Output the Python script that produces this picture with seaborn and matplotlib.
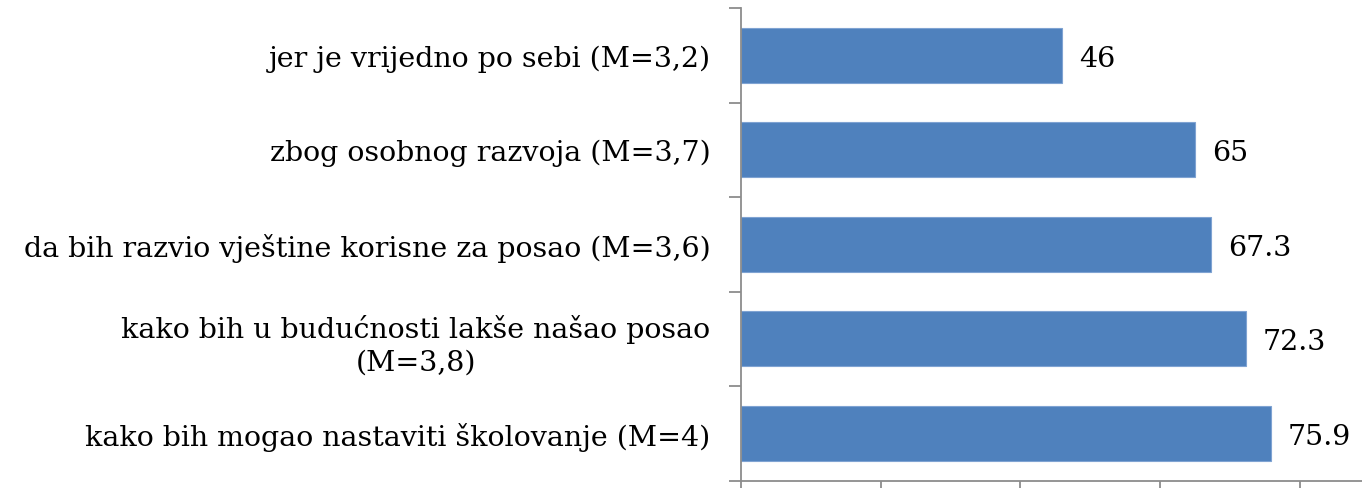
import numpy as np
import pandas as pd
import matplotlib
matplotlib.use('Agg')
import matplotlib.pyplot as plt
from matplotlib.ticker import FixedLocator
import seaborn as sns

# Data (top to bottom)
categories = [
    "jer je vrijedno po sebi (M=3,2)",
    "zbog osobnog razvoja (M=3,7)",
    "da bih razvio vještine korisne za posao (M=3,6)",
    "kako bih u budućnosti lakše našao posao\n(M=3,8)",
    "kako bih mogao nastaviti školovanje (M=4)",
]
values = [46, 65, 67.3, 72.3, 75.9]
value_labels = ["46", "65", "67.3", "72.3", "75.9"]
x_ticks = [0, 20, 40, 60, 80]

sns.set_style("white")
plt.rcParams['font.family'] = ['DejaVu Serif']
plt.rcParams['text.color'] = 'black'
plt.rcParams['ytick.labelcolor'] = 'black'

df = pd.DataFrame({"reason": categories, "value": values})

fig = plt.figure(figsize=(13.62, 4.89), dpi=100)
ax = fig.add_axes([741 / 1362, 7.5 / 489, 1 - 741 / 1362, (481.5 - 9) / 489])

sns.barplot(data=df, x="value", y="reason", orient="h", color="#4F81BD",
            saturation=1, width=0.58, edgecolor="#7FA3D2", linewidth=0.8, ax=ax)

ax.set_xlim(0, (1362 - 741) / 6.985)
ax.set_ylim(len(categories) - 0.5, -0.5)
ax.set_xlabel("")
ax.set_ylabel("")

# value labels beside bars
for i, (v, lab) in enumerate(zip(values, value_labels)):
    ax.text(v + 2.4, i + 0.03, lab, va="center", ha="left", fontsize=20.5, color="black")

# spines
for s in ["top", "right"]:
    ax.spines[s].set_visible(False)
for s in ["left", "bottom"]:
    ax.spines[s].set_color("#8C8C8C")
    ax.spines[s].set_linewidth(1.3)

# category labels (major ticks hidden), boundary ticks as minor
ax.yaxis.set_minor_locator(FixedLocator(np.arange(-0.5, len(categories), 1.0)))
ax.tick_params(axis="y", which="major", length=0, pad=22, labelsize=20.5,
               labelcolor="black")
ax.tick_params(axis="y", which="minor", length=9, width=1.3, color="#8C8C8C",
               direction="out", left=True)
for t in ax.get_yticklabels():
    t.set_multialignment("center")
    t.set_linespacing(1.3)
    t.set_color("black")

ax.set_xticks(x_ticks)
ax.set_xticklabels([])
ax.tick_params(axis="x", which="major", length=9, width=1.3, color="#8C8C8C",
               direction="out", bottom=True)

fig.savefig("out.png", dpi=100)
